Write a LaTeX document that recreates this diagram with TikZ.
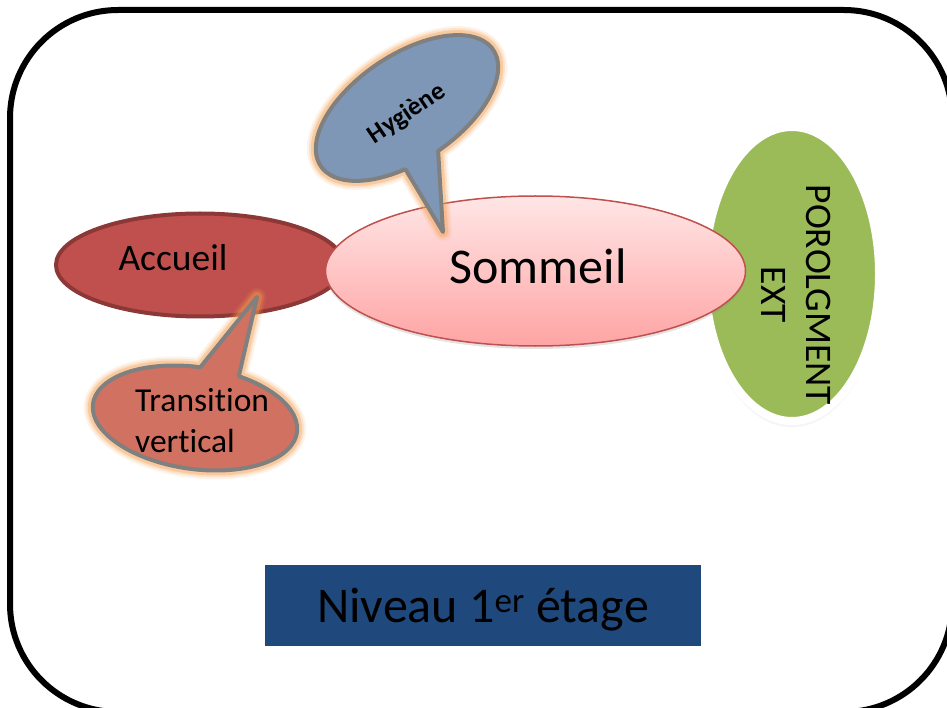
\documentclass[tikz,border=0pt]{standalone}
\usepackage{fontspec}
\setmainfont{Carlito}[Ligatures=NoCommon]
\usetikzlibrary{shapes.geometric,shadows}
\definecolor{accfill}{RGB}{192,80,77}
\definecolor{accline}{RGB}{140,56,54}
\definecolor{somtop}{RGB}{255,230,230}
\definecolor{sombot}{RGB}{255,164,164}
\definecolor{grn}{RGB}{155,187,89}
\definecolor{hygfill}{RGB}{126,151,182}
\definecolor{trfill}{RGB}{208,113,97}
\definecolor{callgray}{RGB}{128,128,128}
\definecolor{glow}{RGB}{247,160,80}
\definecolor{nivblue}{RGB}{31,73,125}
\tikzset{
  callout/.style={draw=callgray, line width=4pt, line join=round,
    preaction={draw=glow, line width=18pt, draw opacity=.12, line join=round},
    preaction={draw=glow, line width=14pt, draw opacity=.2, line join=round},
    preaction={draw=glow, line width=10pt, draw opacity=.35, line join=round}},
  blob/.style={ellipse, inner sep=0pt, outer sep=0pt},
  txt/.style={inner sep=0pt, text=black}
}
\begin{document}
\begin{tikzpicture}[x=1pt,y=-1pt]
\useasboundingbox (0,0) rectangle (947,708);
\fill[white] (0,0) rectangle (947,708);
\begin{scope}
\clip (0,0) rectangle (947,708);
\draw[line width=6pt, rounded corners=108pt] (10,10) rectangle (952,712);

% Accueil
\node[blob, draw=accline, line width=4pt, fill=accfill, minimum width=288pt, minimum height=103pt] (accueil) at (200,265) {};
\node[txt, anchor=base, font=\fontsize{37.5}{45}\selectfont] (acctxt) at (173,271) {Accueil};

% green ellipse
\node[blob, draw=white, line width=8pt, fill=grn, minimum width=174pt, minimum height=294pt,
  drop shadow={opacity=.08, shadow xshift=0pt, shadow yshift=-1pt, shadow scale=1.035}] (ext) at (792,274) {};
\node[txt, anchor=base, rotate=-90, font=\fontsize{37.5}{45}\selectfont] (exttxt) at (806.5,295)
  {\begin{tabular}[t]{@{}c@{}}POROLGMENT\\EXT\end{tabular}};

% Sommeil
\node[blob, draw=accfill, line width=1.5pt, top color=somtop, bottom color=sombot,
  minimum width=420pt, minimum height=150pt,
  drop shadow={opacity=.22, shadow xshift=0pt, shadow yshift=-3pt}] (sommeil) at (535.5,271) {};
\node[txt, anchor=base, font=\fontsize{50}{60}\selectfont] (somtxt) at (538,284) {Sommeil};

% Hygiene callout
\begin{scope}[shift={(407,108)}, rotate=34]
  \coordinate (hygtip) at (-39.5,122.9);
  \path[callout, fill=hygfill] ({104*cos(110)},{53*sin(110)})
    arc[start angle=110, end angle=449, x radius=104, y radius=53] -- (hygtip) -- cycle;
\end{scope}
\node[txt, rotate=34, font=\fontsize{26}{31}\selectfont\bfseries] (hygtxt) at (407,114) {Hygiène};

% Transition callout
\begin{scope}[shift={(195,418)}, rotate=-8]
  \coordinate (trtip) at (44.6,-128.4);
  \path[callout, fill=trfill] ({103*cos(291.4)},{51*sin(291.4)})
    arc[start angle=291.4, end angle=629, x radius=103, y radius=51] -- (trtip) -- cycle;
\end{scope}
\node[txt, anchor=base west, font=\fontsize{33.5}{41}\selectfont] (trtxt) at (135,452.7)
  {\begin{tabular}[b]{@{}l@{}}Transition\\vertical\end{tabular}};

% Niveau box
\node[fill=nivblue, minimum width=436pt, minimum height=81pt, inner sep=0pt,
  text height=33pt, text depth=0pt, font=\fontsize{50}{60}\selectfont] (niveau) at (483,605.5)
  {Niveau 1\textsuperscript{er} étage};
\end{scope}
\end{tikzpicture}
\end{document}
